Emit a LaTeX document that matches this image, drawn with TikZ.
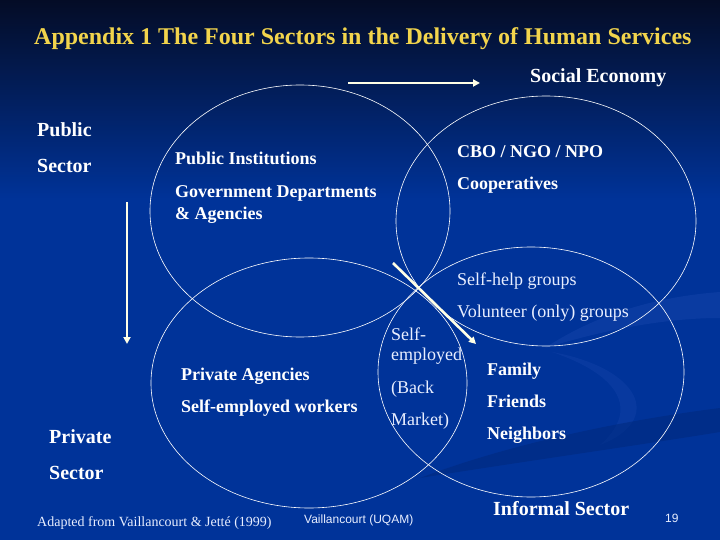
\documentclass[tikz,border=0pt]{standalone}
\usepackage{fontspec}
\setmainfont{Liberation Serif}
\setsansfont{Liberation Sans}
\usetikzlibrary{arrows.meta}
\definecolor{bgtop}{HTML}{040C26}
\definecolor{bgblue}{HTML}{003399}
\definecolor{swlight}{HTML}{3A62C8}
\definecolor{swdark}{HTML}{00287A}
\definecolor{titleyellow}{HTML}{F2D44C}
\definecolor{arrowcol}{HTML}{FFFFE6}
\definecolor{softwhite}{HTML}{E8EEFF}
\begin{document}
\begin{tikzpicture}[x=1pt,y=-1pt,
  boldlbl/.style={anchor=base west, inner sep=0pt, text=white, font=\bfseries\fontsize{18}{18}\selectfont},
  biglbl/.style={anchor=base west, inner sep=0pt, text=white, font=\bfseries\fontsize{20}{20}\selectfont},
  plainlbl/.style={anchor=base west, inner sep=0pt, text=softwhite, font=\fontsize{18}{18}\selectfont},
  smalllbl/.style={anchor=base west, inner sep=0pt, text=softwhite, font=\fontsize{14}{14}\selectfont},
  sanslbl/.style={anchor=base west, inner sep=0pt, text=softwhite, font=\sffamily\fontsize{12}{12}\selectfont},
  ring/.style={draw=white, line width=0.6pt},
  bigarrow/.style={draw=arrowcol, line width=2.6pt, -{Triangle[length=7pt,width=7pt]}}]
\useasboundingbox (0,0) rectangle (720,540);
% background
\fill[bgblue] (0,0) rectangle (720,540);
\shade[top color=bgtop, bottom color=bgblue] (0,0) rectangle (720,200);
% faint background swooshes
\fill[swlight, opacity=0.18] (545,348) .. controls (610,305) and (680,295) .. (720,292) -- (720,318) .. controls (670,318) and (610,328) .. (545,348) -- cycle;
\fill[swlight, opacity=0.14] (552,352) .. controls (640,368) and (665,420) .. (600,445) .. controls (640,410) and (620,375) .. (552,352) -- cycle;
\fill[swdark, opacity=0.5] (420,478) .. controls (520,440) and (640,418) .. (720,408) -- (720,432) .. controls (640,445) and (520,462) .. (420,478) -- cycle;
% title
\node[anchor=base west, inner sep=0pt, text=titleyellow, font=\bfseries\fontsize{24}{24}\selectfont] (title) at (34,45) {Appendix 1 The Four Sectors in the Delivery of Human Services};
% ellipses
\coordinate (cpub) at (300,211);
\coordinate (csoc) at (546,221);
\coordinate (cpriv) at (309,383);
\coordinate (cinf) at (531,372);
\draw[ring] (cpub) ellipse [x radius=150, y radius=126];
\draw[ring] (csoc) ellipse [x radius=150, y radius=125];
\draw[ring] (cpriv) ellipse [x radius=158, y radius=125];
\draw[ring] (cinf) ellipse [x radius=153, y radius=125];
% arrows
\coordinate (hA) at (348,83);
\coordinate (hB) at (480,83);
\coordinate (vA) at (127,202);
\coordinate (vB) at (127,344);
\coordinate (dA) at (393,263);
\coordinate (dB) at (476,344);
\draw[bigarrow] (hA) -- (hB);
\draw[bigarrow] (vA) -- (vB);
\draw[bigarrow] (dA) -- (dB);
% side labels
\node[biglbl] (soceco) at (530,83) {Social Economy};
\node[biglbl] (pub1) at (37,137) {Public};
\node[biglbl] (pub2) at (37,173) {Sector};
\node[biglbl] (priv1) at (49,443) {Private};
\node[biglbl] (priv2) at (49,479) {Sector};
\node[biglbl] (informal) at (493,515) {Informal Sector};
% public circle
\node[boldlbl] (pubinst) at (175,165) {Public Institutions};
\node[boldlbl] (govdep) at (175,197) {Government Departments};
\node[boldlbl] (agencies) at (175,219) {\& Agencies};
% social economy circle
\node[boldlbl] (cbo) at (457,158) {CBO / NGO / NPO};
\node[boldlbl] (coop) at (457,190) {Cooperatives};
% overlap social/informal
\node[plainlbl] (selfhelp) at (457,285) {Self-help groups};
\node[plainlbl] (volunteer) at (457,317) {Volunteer (only) groups};
% private circle
\node[boldlbl] (privag) at (181,380) {Private Agencies};
\node[boldlbl] (selfemp) at (181,412) {Self-employed workers};
% private/informal overlap
\node[plainlbl] (se1) at (391,340) {Self-};
\node[plainlbl] (se2) at (391,360) {employed};
\node[plainlbl] (se3) at (391,393) {(Back};
\node[plainlbl] (se4) at (391,425) {Market)};
% informal circle
\node[boldlbl] (family) at (487,375) {Family};
\node[boldlbl] (friends) at (487,407) {Friends};
\node[boldlbl] (neigh) at (487,439) {Neighbors};
% footer
\node[smalllbl] (adapted) at (37,526) {Adapted from Vaillancourt \& Jetté (1999)};
\node[sanslbl] (uqam) at (304,523) {Vaillancourt (UQAM)};
\node[sanslbl] (pagenum) at (665,522) {19};
\end{tikzpicture}
\end{document}
